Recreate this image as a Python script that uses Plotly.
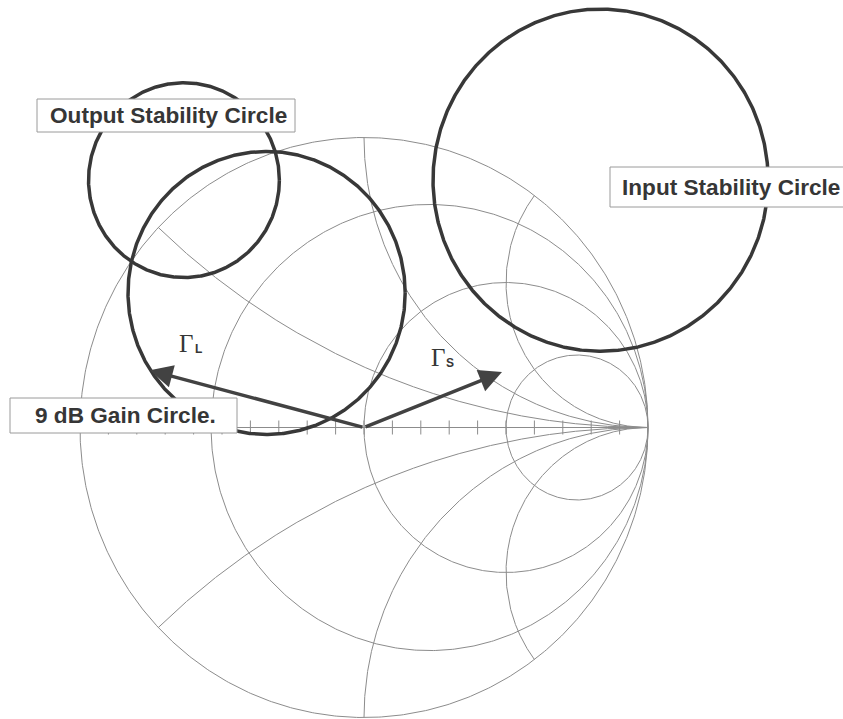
import numpy as np
import plotly.graph_objects as go

# ---- Smith chart grid ----
resistance_values = [0.0, 0.3, 1.0, 3.0]
reactance_values = [0.4, 1.0, 2.0, -0.4, -1.0, -2.0]
tick_positions = [-0.9, -0.8, -0.7, -0.6, -0.5, -0.4, -0.3, -0.2, -0.1, 0.0,
                  0.1, 0.2, 0.3, 0.4, 0.5, 0.6, 0.7, 0.8, 0.9]

# ---- design circles in the reflection-coefficient plane ----
circle_names = ["Output Stability Circle", "9 dB Gain Circle.", "Input Stability Circle"]
circle_center_re = [-0.634, -0.343, 0.833]
circle_center_im = [0.853, 0.464, 0.853]
circle_radius = [0.336, 0.488, 0.59]

# ---- source / load reflection coefficients ----
gamma_names = ["L", "S"]
gamma_re = [-0.754, 0.486]
gamma_im = [0.197, 0.191]

W, H = 843, 719
CX, CY = 364.0, 427.5      # chart centre on the page (px)
SX, SY = 284.0, 290.0      # px per unit of reflection coefficient

GRID = "#8c8c8c"
INK = "#383838"
TXT = "#363636"

fig = go.Figure()

# resistance circles
t = np.linspace(0, 2 * np.pi, 721)
for r in resistance_values:
    c = r / (1 + r)
    rad = 1 / (1 + r)
    fig.add_trace(go.Scatter(x=c + rad * np.cos(t), y=rad * np.sin(t), mode="lines",
                             line=dict(color=GRID, width=1), hoverinfo="skip"))

# reactance arcs
u = np.linspace(0, np.pi / 2 * 0.99995, 1200)
rr = np.tan(u)
for xv in reactance_values:
    z = rr + 1j * xv
    g = (z - 1) / (z + 1)
    fig.add_trace(go.Scatter(x=g.real, y=g.imag, mode="lines",
                             line=dict(color=GRID, width=1), hoverinfo="skip"))

# real axis with tick marks
fig.add_trace(go.Scatter(x=[-1, 1], y=[0, 0], mode="lines",
                         line=dict(color=GRID, width=1), hoverinfo="skip"))
th = 7 / SY
tx, ty = [], []
for p in tick_positions:
    tx += [p, p, None]
    ty += [-th, th, None]
fig.add_trace(go.Scatter(x=tx, y=ty, mode="lines",
                         line=dict(color=GRID, width=1), hoverinfo="skip"))

# stability and gain circles
for cr, ci, rad in zip(circle_center_re, circle_center_im, circle_radius):
    fig.add_trace(go.Scatter(x=cr + rad * np.cos(t), y=ci + rad * np.sin(t), mode="lines",
                             line=dict(color=INK, width=3.5), hoverinfo="skip"))


def px(x):
    return x / W


def py(y):
    return 1 - y / H


# label boxes (page pixels: left, top, right, bottom)
boxes = [(37, 99, 295, 132), (10, 398, 237, 433), (610, 167, 860, 207)]
text_pos = [(48, 115.5), (33, 415.5), (620, 187)]
for (x0, y0, x1, y1) in boxes:
    fig.add_shape(type="rect", xref="paper", yref="paper",
                  x0=px(x0), y0=py(y1), x1=px(x1), y1=py(y0),
                  fillcolor="white", line=dict(color="#9a9a9a", width=1), layer="above")

for i in range(len(circle_names)):
    fig.add_annotation(xref="paper", yref="paper", x=px(text_pos[i][0]), y=py(text_pos[i][1]),
                       xanchor="left", yanchor="middle", showarrow=False,
                       text="<b>%s</b>" % circle_names[i],
                       font=dict(family="Liberation Sans, Arial", size=22.6, color=TXT))

# Γ vectors from the chart centre
for gr, gi in zip(gamma_re, gamma_im):
    fig.add_annotation(x=gr, y=gi, ax=0, ay=0, xref="x", yref="y", axref="x", ayref="y",
                       text="", showarrow=True, arrowhead=2, arrowsize=1.3,
                       arrowwidth=3.5, arrowcolor="#424242", standoff=0)

# Γ labels
gamma_label_px = [(186, 343), (438, 357)]
for name, (lx, ly) in zip(gamma_names, gamma_label_px):
    fig.add_annotation(xref="paper", yref="paper", x=px(lx), y=py(ly), showarrow=False,
                       text="Γ", font=dict(family="Liberation Serif, Times New Roman", size=25, color=TXT),
                       xanchor="center", yanchor="middle")
    fig.add_annotation(xref="paper", yref="paper", x=px(lx + 12), y=py(ly + 6), showarrow=False,
                       text="<b>%s</b>" % name,
                       font=dict(family="Liberation Sans, Arial", size=12, color=TXT),
                       xanchor="center", yanchor="middle")

fig.update_layout(
    width=W, height=H, margin=dict(l=0, r=0, t=0, b=0, pad=0),
    paper_bgcolor="white", plot_bgcolor="white", showlegend=False,
    xaxis=dict(visible=False, range=[-CX / SX, (W - CX) / SX], fixedrange=True),
    yaxis=dict(visible=False, range=[(CY - H) / SY, CY / SY], fixedrange=True),
)

fig.write_html("out.html")
